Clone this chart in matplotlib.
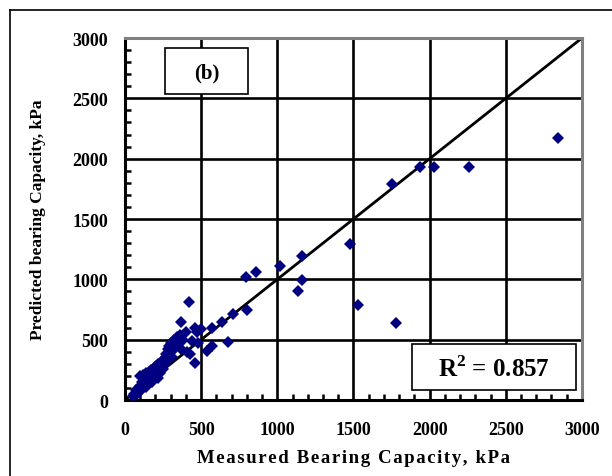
import matplotlib
matplotlib.use("Agg")
import matplotlib.pyplot as plt
from matplotlib.lines import Line2D
from matplotlib.patches import Rectangle
from matplotlib.ticker import MultipleLocator

# measured vs predicted bearing capacity (kPa)
measured = [
    50, 60, 70, 75, 80, 90, 95, 100, 100, 110, 115, 120, 125, 130, 135, 140,
    145, 150, 155, 160, 165, 170, 175, 180, 185, 190, 200, 205, 210, 215, 220,
    225, 230, 240, 245, 250, 255, 260, 270, 275, 280, 285, 290, 300, 305, 310,
    320, 330, 340, 350, 360, 365, 370, 380, 400, 405, 420, 430, 438, 460, 460,
    470, 480, 500, 536, 569, 569, 634, 678, 711, 792, 799, 860, 1017, 1133,
    1164, 1160, 1480, 1530, 1750, 1780, 1940, 2030, 2260, 2840,
]
predicted = [
    30, 50, 40, 80, 60, 100, 70, 120, 200, 90, 150, 210, 130, 180, 110, 220,
    160, 140, 230, 190, 170, 250, 210, 150, 260, 230, 200, 280, 250, 180, 300,
    270, 220, 320, 290, 260, 340, 300, 380, 330, 420, 350, 450, 400, 470, 360,
    500, 430, 520, 480, 540, 420, 650, 500, 560, 395, 815, 380, 490, 600, 310,
    560, 470, 590, 409, 450, 597, 649, 484, 713, 1022, 749, 1058, 1113, 906,
    995, 1190, 1290, 790, 1790, 640, 1930, 1930, 1930, 2170,
]
r2_text = "R$^{\\mathbf{2}}$ = 0.857"
panel_text = "(b)"
xlabel = "Measured Bearing Capacity, kPa"
ylabel = "Predicted bearing Capacity, kPa"
lim = 3000

plt.rcParams["font.family"] = ["Liberation Serif", "DejaVu Serif"]
plt.rcParams["font.weight"] = "bold"
plt.rcParams["mathtext.fontset"] = "custom"
plt.rcParams["mathtext.rm"] = "Liberation Serif:bold"
plt.rcParams["mathtext.bf"] = "Liberation Serif:bold"

fig = plt.figure(figsize=(6.12, 4.77), dpi=100)
ax = fig.add_axes([0.2042, 0.1593, 0.7467, 0.7589])

# partial outer chart border (left and top)
fig.add_artist(Line2D([10 / 612, 10 / 612], [0, 1 - 11 / 477], transform=fig.transFigure,
                      color="black", lw=1.2))
fig.add_artist(Line2D([10 / 612, 1], [1 - 11 / 477, 1 - 11 / 477], transform=fig.transFigure,
                      color="black", lw=1.2))

ax.grid(True, which="major", color="black", lw=1.9, zorder=1)
ax.plot([0, lim], [0, lim], color="black", lw=2.0, zorder=2)
ax.plot(measured, predicted, "D", color="#000080", markersize=6, markeredgewidth=0,
        linestyle="none", zorder=3, clip_on=False)

ax.set_xlim(0, lim)
ax.set_ylim(0, lim)
ax.xaxis.set_major_locator(MultipleLocator(500))
ax.yaxis.set_major_locator(MultipleLocator(500))
ax.xaxis.set_minor_locator(MultipleLocator(100))
ax.yaxis.set_minor_locator(MultipleLocator(100))
ax.tick_params(which="major", length=0, labelsize=13, pad=12)
ax.tick_params(axis="x", which="major", pad=15)
ax.tick_params(which="minor", direction="in", length=4, width=1.8, color="black")
for lbl in ax.get_xticklabels() + ax.get_yticklabels():
    lbl.set_fontweight("bold")

for side in ["left", "bottom"]:
    ax.spines[side].set_color("black")
    ax.spines[side].set_linewidth(2.2)
for side in ["top", "right"]:
    ax.spines[side].set_color("#808080")
    ax.spines[side].set_linewidth(2.2)

# the original x title is letter-spaced; hair spaces mimic that
ax.set_xlabel("\u200a".join(xlabel), fontsize=13.5, fontweight="bold", labelpad=8)
ax.set_ylabel(ylabel, fontsize=12.5, fontweight="bold", labelpad=19)

# panel label box
ax.add_patch(Rectangle((0.0875, 0.845), 0.1815, 0.127, transform=ax.transAxes,
                       facecolor="white", edgecolor="black", lw=1.2, zorder=4))
ax.text(0.178, 0.905, panel_text, transform=ax.transAxes, ha="center", va="center",
        fontsize=15, fontweight="bold", zorder=5)

# R^2 box
ax.add_patch(Rectangle((0.628, 0.028), 0.359, 0.127, transform=ax.transAxes,
                       facecolor="white", edgecolor="black", lw=1.2, zorder=4))
ax.text(0.807, 0.088, r2_text, transform=ax.transAxes, ha="center", va="center",
        fontsize=18, fontweight="bold", zorder=5)

fig.savefig("out.png", dpi=100)
